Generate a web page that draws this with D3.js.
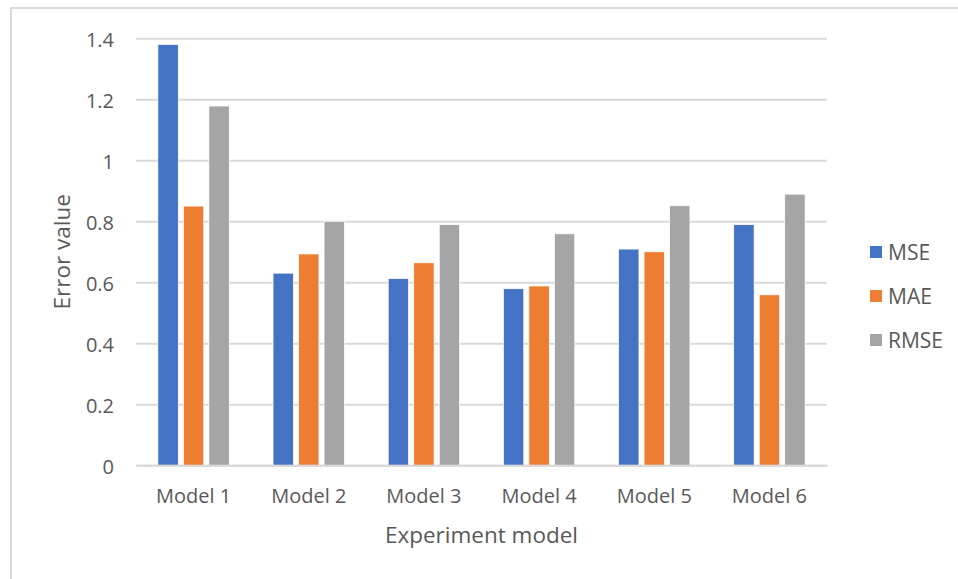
<!DOCTYPE html>
<html>
<head>
<meta charset="utf-8">
<script src="https://cdn.jsdelivr.net/npm/d3@7"></script>
<style>
  body { margin: 0; background: #fff; }
  text { font-family: "Open Sans", sans-serif; fill: #595959; }
</style>
</head>
<body>
<div id="chart"></div>
<script>
// Error values per model
const models = ["Model 1", "Model 2", "Model 3", "Model 4", "Model 5", "Model 6"];
const series = ["MSE", "MAE", "RMSE"];
const mse  = [1.38, 0.63, 0.612, 0.579, 0.709, 0.789];
const mae  = [0.85, 0.693, 0.664, 0.588, 0.70, 0.559];
const rmse = [1.178, 0.80, 0.789, 0.759, 0.851, 0.889];
const yTicks = [0, 0.2, 0.4, 0.6, 0.8, 1, 1.2, 1.4];
const colors = ["#4472C4", "#ED7D31", "#A5A5A5"];

const width = 958, height = 579;
const plot = {left: 136, right: 827, top: 38.3, bottom: 465.3};

const values = [mse, mae, rmse];
const rows = models.map((m, i) => ({model: m, vals: series.map((s, j) => ({key: s, value: values[j][i]}))}));

const svg = d3.select("#chart").append("svg")
    .attr("width", width)
    .attr("height", height);

// chart frame (runs off the right and bottom edges)
svg.append("rect")
    .attr("x", 11).attr("y", 8)
    .attr("width", 980).attr("height", 600)
    .attr("fill", "#fff")
    .attr("stroke", "#d9d9d9")
    .attr("stroke-width", 2);

const x0 = d3.scaleBand()
    .domain(models)
    .range([plot.left, plot.right])
    .paddingInner(0.38)
    .paddingOuter(0.19);

const x1 = d3.scaleBand()
    .domain(series)
    .range([0, x0.bandwidth()])
    .paddingInner(0.2);

const y = d3.scaleLinear()
    .domain([0, 1.4])
    .range([plot.bottom, plot.top]);

const color = d3.scaleOrdinal().domain(series).range(colors);

// gridlines + y tick labels
const yAxis = svg.append("g")
    .attr("transform", `translate(${plot.left},0)`)
    .call(d3.axisLeft(y).tickValues(yTicks).tickSize(-(plot.right - plot.left)).tickPadding(22).tickFormat(d => d3.format("~g")(d)));
yAxis.select(".domain").remove();
yAxis.selectAll(".tick line").attr("stroke", "#d9d9d9").attr("stroke-width", 2);
yAxis.selectAll(".tick text").attr("font-size", 20).attr("fill", "#595959").attr("dy", "0.4em");

// bars
svg.append("g").selectAll("g")
    .data(rows)
    .join("g")
    .attr("transform", d => `translate(${x0(d.model)},0)`)
    .selectAll("rect")
    .data(d => d.vals)
    .join("rect")
    .attr("x", d => x1(d.key))
    .attr("y", d => y(d.value))
    .attr("width", x1.bandwidth())
    .attr("height", d => y(0) - y(d.value))
    .attr("fill", d => color(d.key))
    .attr("stroke", "#fff")
    .attr("stroke-width", 0.75);

// x axis baseline + category labels
const xAxis = svg.append("g")
    .attr("transform", `translate(0,${plot.bottom})`)
    .call(d3.axisBottom(x0).tickSize(0).tickPadding(24));
xAxis.select(".domain").attr("stroke", "#d9d9d9").attr("stroke-width", 2);
xAxis.selectAll(".tick text").attr("font-size", 20).attr("fill", "#595959");

// axis titles
svg.append("text")
    .attr("x", (plot.left + plot.right) / 2)
    .attr("y", 543)
    .attr("text-anchor", "middle")
    .attr("font-size", 22.5)
    .text("Experiment model");

svg.append("text")
    .attr("transform", `translate(70,${(plot.top + plot.bottom) / 2}) rotate(-90)`)
    .attr("text-anchor", "middle")
    .attr("font-size", 22.5)
    .text("Error value");

// legend
const legend = svg.append("g").selectAll("g")
    .data(series)
    .join("g")
    .attr("transform", (d, i) => `translate(870,${252 + i * 44})`);
legend.append("rect")
    .attr("x", 0).attr("y", -6)
    .attr("width", 12).attr("height", 12)
    .attr("fill", d => color(d));
legend.append("text")
    .attr("x", 18)
    .attr("dy", "0.36em")
    .attr("font-size", 21)
    .text(d => d);
</script>
</body>
</html>
